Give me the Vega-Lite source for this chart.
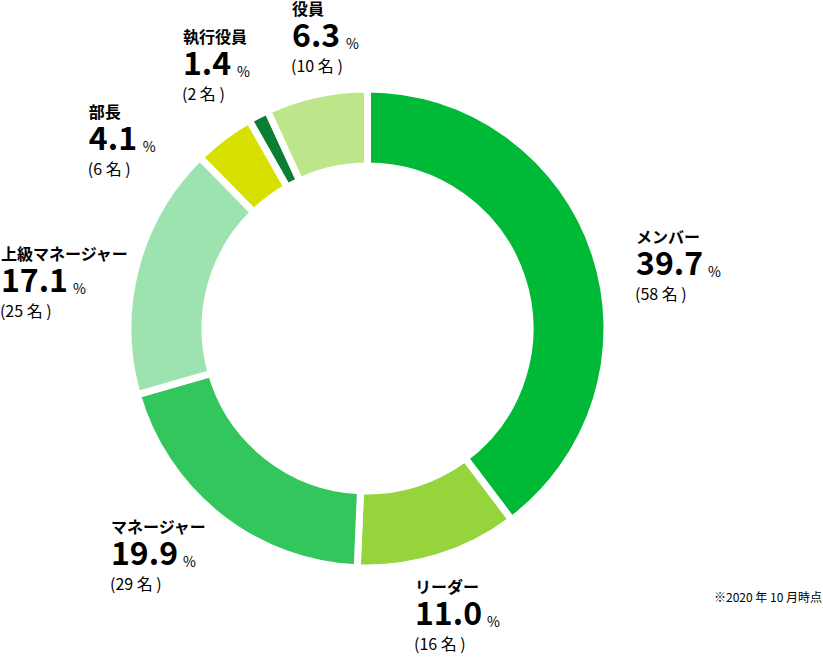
{
  "$schema": "https://vega.github.io/schema/vega-lite/v6.json",
  "width": 735,
  "height": 657,
  "autosize": {"type": "none"},
  "padding": {"left": 0, "top": 0, "right": 88, "bottom": 1},
  "background": "white",
  "title": {"text": "※2020 年 10 月時点", "orient": "bottom", "anchor": "end", "offset": 0, "dx": 87, "dy": -55, "baseline": "alphabetic", "font": "Noto Sans CJK JP", "fontSize": 12, "fontWeight": "normal", "color": "#000"},
  "data": {"values": [
    {"order": 1, "role": "メンバー", "pct": "39.7", "count": 58, "n": "(58 名 )"},
    {"order": 2, "role": "リーダー", "pct": "11.0", "count": 16, "n": "(16 名 )"},
    {"order": 3, "role": "マネージャー", "pct": "19.9", "count": 29, "n": "(29 名 )"},
    {"order": 4, "role": "上級マネージャー", "pct": "17.1", "count": 25, "n": "(25 名 )"},
    {"order": 5, "role": "部長", "pct": "4.1", "count": 6, "n": "(6 名 )"},
    {"order": 6, "role": "執行役員", "pct": "1.4", "count": 2, "n": "(2 名 )"},
    {"order": 7, "role": "役員", "pct": "6.3", "count": 10, "n": "(10 名 )"}
  ]},
  "transform": [
    {"stack": "count", "groupby": [], "sort": [{"field": "order", "order": "ascending"}], "as": ["c0", "c1"]}
  ],
  "layer": [
    {
      "mark": {"type": "arc", "outerRadius": 239.5, "innerRadius": 162.5, "stroke": "white", "strokeWidth": 7},
      "encoding": {
        "theta": {"field": "c0", "type": "quantitative", "stack": null, "scale": {"domain": [0, 146], "zero": true, "nice": false}},
        "theta2": {"field": "c1"},
        "color": {"field": "role", "type": "nominal", "legend": null,
          "scale": {"domain": ["メンバー", "リーダー", "マネージャー", "上級マネージャー", "部長", "執行役員", "役員"],
                    "range": ["#00b936", "#96d43c", "#33c65c", "#9de3b0", "#d8e000", "#0a7e35", "#bde58a"]}}
      }
    },
    {
      "transform": [{"filter": "datum.role === 'メンバー'"}],
      "encoding": {"theta": {"field": "c0", "type": "quantitative", "stack": null}},
      "layer": [
        {"mark": {"type": "text", "radius": 300, "align": "left", "baseline": "alphabetic", "dx": 268.5, "dy": 214.5, "fontSize": 16, "fontWeight": "bold"}, "encoding": {"text": {"field": "role"}}},
        {"mark": {"type": "text", "radius": 300, "align": "left", "baseline": "alphabetic", "dx": 268.5, "dy": 246.5, "fontSize": 32, "fontWeight": "bold"}, "encoding": {"text": {"field": "pct"}}},
        {"mark": {"type": "text", "radius": 300, "align": "left", "baseline": "alphabetic", "dx": 340.5, "dy": 248.5, "fontSize": 14}, "encoding": {"text": {"value": "%"}}},
        {"mark": {"type": "text", "radius": 300, "align": "left", "baseline": "alphabetic", "dx": 267.5, "dy": 271.5, "fontSize": 16}, "encoding": {"text": {"field": "n"}}}
      ]
    },
    {
      "transform": [{"filter": "datum.role === 'リーダー'"}],
      "encoding": {"theta": {"field": "c0", "type": "quantitative", "stack": null}},
      "layer": [
        {"mark": {"type": "text", "radius": 300, "align": "left", "baseline": "alphabetic", "dx": -133, "dy": 24.9, "fontSize": 16, "fontWeight": "bold"}, "encoding": {"text": {"field": "role"}}},
        {"mark": {"type": "text", "radius": 300, "align": "left", "baseline": "alphabetic", "dx": -133, "dy": 56.9, "fontSize": 32, "fontWeight": "bold"}, "encoding": {"text": {"field": "pct"}}},
        {"mark": {"type": "text", "radius": 300, "align": "left", "baseline": "alphabetic", "dx": -61, "dy": 58.9, "fontSize": 14}, "encoding": {"text": {"value": "%"}}},
        {"mark": {"type": "text", "radius": 300, "align": "left", "baseline": "alphabetic", "dx": -134, "dy": 81.9, "fontSize": 16}, "encoding": {"text": {"field": "n"}}}
      ]
    },
    {
      "transform": [{"filter": "datum.role === 'マネージャー'"}],
      "encoding": {"theta": {"field": "c0", "type": "quantitative", "stack": null}},
      "layer": [
        {"mark": {"type": "text", "radius": 300, "align": "left", "baseline": "alphabetic", "dx": -243.6, "dy": -95.2, "fontSize": 16, "fontWeight": "bold"}, "encoding": {"text": {"field": "role"}}},
        {"mark": {"type": "text", "radius": 300, "align": "left", "baseline": "alphabetic", "dx": -243.6, "dy": -63.2, "fontSize": 32, "fontWeight": "bold"}, "encoding": {"text": {"field": "pct"}}},
        {"mark": {"type": "text", "radius": 300, "align": "left", "baseline": "alphabetic", "dx": -171.6, "dy": -61.2, "fontSize": 14}, "encoding": {"text": {"value": "%"}}},
        {"mark": {"type": "text", "radius": 300, "align": "left", "baseline": "alphabetic", "dx": -244.6, "dy": -38.2, "fontSize": 16}, "encoding": {"text": {"field": "n"}}}
      ]
    },
    {
      "transform": [{"filter": "datum.role === '上級マネージャー'"}],
      "encoding": {"theta": {"field": "c0", "type": "quantitative", "stack": null}},
      "layer": [
        {"mark": {"type": "text", "radius": 300, "align": "left", "baseline": "alphabetic", "dx": -78.2, "dy": -151.3, "fontSize": 16, "fontWeight": "bold"}, "encoding": {"text": {"field": "role"}}},
        {"mark": {"type": "text", "radius": 300, "align": "left", "baseline": "alphabetic", "dx": -78.2, "dy": -119.3, "fontSize": 32, "fontWeight": "bold"}, "encoding": {"text": {"field": "pct"}}},
        {"mark": {"type": "text", "radius": 300, "align": "left", "baseline": "alphabetic", "dx": -6.2, "dy": -117.3, "fontSize": 14}, "encoding": {"text": {"value": "%"}}},
        {"mark": {"type": "text", "radius": 300, "align": "left", "baseline": "alphabetic", "dx": -79.2, "dy": -94.3, "fontSize": 16}, "encoding": {"text": {"field": "n"}}}
      ]
    },
    {
      "transform": [{"filter": "datum.role === '部長'"}],
      "encoding": {"theta": {"field": "c0", "type": "quantitative", "stack": null}},
      "layer": [
        {"mark": {"type": "text", "radius": 300, "align": "left", "baseline": "alphabetic", "dx": -68.8, "dy": 4, "fontSize": 16, "fontWeight": "bold"}, "encoding": {"text": {"field": "role"}}},
        {"mark": {"type": "text", "radius": 300, "align": "left", "baseline": "alphabetic", "dx": -68.8, "dy": 36, "fontSize": 32, "fontWeight": "bold"}, "encoding": {"text": {"field": "pct"}}},
        {"mark": {"type": "text", "radius": 300, "align": "left", "baseline": "alphabetic", "dx": -14.8, "dy": 38, "fontSize": 14}, "encoding": {"text": {"value": "%"}}},
        {"mark": {"type": "text", "radius": 300, "align": "left", "baseline": "alphabetic", "dx": -69.8, "dy": 61, "fontSize": 16}, "encoding": {"text": {"field": "n"}}}
      ]
    },
    {
      "transform": [{"filter": "datum.role === '執行役員'"}],
      "encoding": {"theta": {"field": "c0", "type": "quantitative", "stack": null}},
      "layer": [
        {"mark": {"type": "text", "radius": 300, "align": "left", "baseline": "alphabetic", "dx": -36.4, "dy": -24.6, "fontSize": 16, "fontWeight": "bold"}, "encoding": {"text": {"field": "role"}}},
        {"mark": {"type": "text", "radius": 300, "align": "left", "baseline": "alphabetic", "dx": -36.4, "dy": 7.4, "fontSize": 32, "fontWeight": "bold"}, "encoding": {"text": {"field": "pct"}}},
        {"mark": {"type": "text", "radius": 300, "align": "left", "baseline": "alphabetic", "dx": 17.6, "dy": 9.4, "fontSize": 14}, "encoding": {"text": {"value": "%"}}},
        {"mark": {"type": "text", "radius": 300, "align": "left", "baseline": "alphabetic", "dx": -37.4, "dy": 32.4, "fontSize": 16}, "encoding": {"text": {"field": "n"}}}
      ]
    },
    {
      "transform": [{"filter": "datum.role === '役員'"}],
      "encoding": {"theta": {"field": "c0", "type": "quantitative", "stack": null}},
      "layer": [
        {"mark": {"type": "text", "radius": 300, "align": "left", "baseline": "alphabetic", "dx": 49.7, "dy": -40.9, "fontSize": 16, "fontWeight": "bold"}, "encoding": {"text": {"field": "role"}}},
        {"mark": {"type": "text", "radius": 300, "align": "left", "baseline": "alphabetic", "dx": 49.7, "dy": -8.9, "fontSize": 32, "fontWeight": "bold"}, "encoding": {"text": {"field": "pct"}}},
        {"mark": {"type": "text", "radius": 300, "align": "left", "baseline": "alphabetic", "dx": 103.7, "dy": -6.9, "fontSize": 14}, "encoding": {"text": {"value": "%"}}},
        {"mark": {"type": "text", "radius": 300, "align": "left", "baseline": "alphabetic", "dx": 48.7, "dy": 16.1, "fontSize": 16}, "encoding": {"text": {"field": "n"}}}
      ]
    }
  ],
  "config": {
    "view": {"stroke": null},
    "text": {"font": "Noto Sans CJK JP", "fill": "#000"}
  }
}
